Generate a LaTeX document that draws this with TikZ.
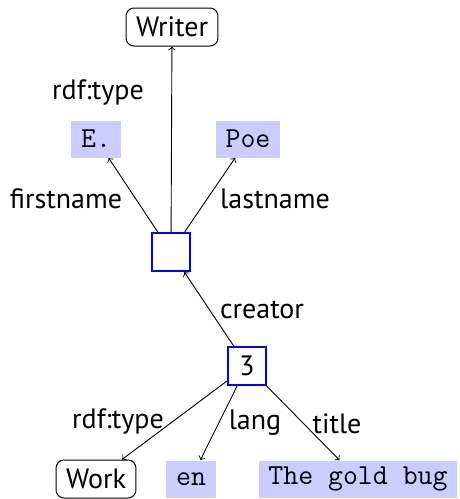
\documentclass[tikz,border=0pt]{standalone}
\usepackage{fontspec}
\setmainfont{PT Sans}
\begin{document}
\begin{tikzpicture}[x=0.5pt,y=-0.5pt,
  font=\fontsize{14}{16}\selectfont,
  every node/.style={inner sep=0pt},
  classbox/.style={draw, rounded corners=4pt, minimum height=19pt, inner xsep=5pt, line width=0.5pt},
  literal/.style={fill=blue!20, minimum height=18.5pt, inner xsep=4.8pt, font=\fontsize{14.5}{16}\selectfont\ttfamily},
  resource/.style={draw=blue, line width=1pt, minimum size=19pt},
  link/.style={->, line width=0.45pt},
  lbl/.style={}]
\useasboundingbox (0,0) rectangle (460,499);
% nodes
\node[classbox] (writer) at (172,27) {Writer};
\node[literal] (first) at (96,139) {E.};
\node[literal] (last) at (248,139) {Poe};
\node[resource] (author) at (171,252) {};
\node[resource] (book) at (247,366) {3};
\node[classbox] (work) at (96,479) {Work};
\node[literal] (lang) at (191,479) {en};
\node[literal] (title) at (358,479) {The gold bug};
% connectors
\draw[link] (author) -- (writer);
\draw[link] (author) -- (first);
\draw[link] (author) -- (last);
\draw[link] (book) -- (author);
\draw[link] (book) -- (work);
\draw[link] (book) -- (lang);
\draw[link] (book) -- (title);
% edge labels
\node[lbl] (l1) at (98,92) {rdf:type};
\node[lbl] (l2) at (66,199) {firstname};
\node[lbl] (l3) at (275,199) {lastname};
\node[lbl] (l4) at (262,310) {creator};
\node[lbl] (l5) at (118,421) {rdf:type};
\node[lbl] (l6) at (255,423) {lang};
\node[lbl] (l7) at (337,424) {title};
\end{tikzpicture}
\end{document}
